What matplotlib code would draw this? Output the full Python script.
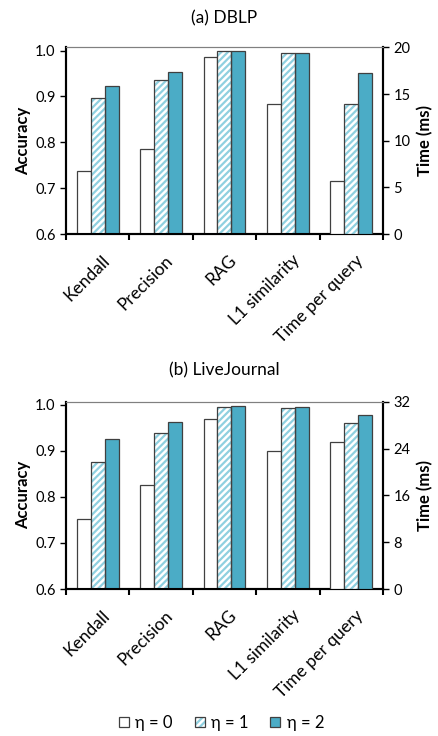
import numpy as np
import matplotlib
matplotlib.use("Agg")
import matplotlib.pyplot as plt
from matplotlib.patches import Patch

plt.rcParams['font.family'] = ['Lato', 'DejaVu Sans']
plt.rcParams['hatch.linewidth'] = 1.6

metrics = ["Kendall", "Precision", "RAG", "L1 similarity", "Time per query"]
etas = ["η = 0", "η = 1", "η = 2"]

# accuracy values for the first four metrics, time (ms) for the last one
dblp_acc = {
    "η = 0": [0.738, 0.786, 0.986, 0.883],
    "η = 1": [0.897, 0.935, 0.998, 0.994],
    "η = 2": [0.923, 0.953, 0.999, 0.995],
}
dblp_time = {"η = 0": 5.7, "η = 1": 13.9, "η = 2": 17.2}

lj_acc = {
    "η = 0": [0.752, 0.826, 0.969, 0.899],
    "η = 1": [0.875, 0.939, 0.996, 0.994],
    "η = 2": [0.926, 0.962, 0.998, 0.996],
}
lj_time = {"η = 0": 25.2, "η = 1": 28.3, "η = 2": 29.7}

teal = "#4BACC6"
hatch_col = "#8FD0E0"
edge = "#404040"
width = 0.22

fig = plt.figure(figsize=(4.39, 7.36), dpi=100)


def draw(rect, title, acc, tm, tmax, tticks, tpad):
    ax = fig.add_axes(rect)
    ax2 = ax.twinx()
    x = np.arange(len(metrics))
    for i, eta in enumerate(etas):
        off = (i - 1) * width
        xs = x[:4] + off
        xt = x[4] + off
        if i == 0:
            ax.bar(xs, acc[eta], width, color="white", edgecolor=edge, lw=0.9, zorder=3)
            ax2.bar(xt, tm[eta], width, color="white", edgecolor=edge, lw=0.9, zorder=3)
        elif i == 1:
            ax.bar(xs, acc[eta], width, color="white", edgecolor=hatch_col, hatch="/////", lw=0, zorder=3)
            ax.bar(xs, acc[eta], width, color="none", edgecolor=edge, lw=0.9, zorder=4)
            ax2.bar(xt, tm[eta], width, color="white", edgecolor=hatch_col, hatch="/////", lw=0, zorder=3)
            ax2.bar(xt, tm[eta], width, color="none", edgecolor=edge, lw=0.9, zorder=4)
        else:
            ax.bar(xs, acc[eta], width, color=teal, edgecolor=edge, lw=0.9, zorder=3)
            ax2.bar(xt, tm[eta], width, color=teal, edgecolor=edge, lw=0.9, zorder=3)

    ax.set_xlim(-0.5, 4.5)
    ax.set_ylim(0.6, 1.007)
    ax.set_yticks([0.6, 0.7, 0.8, 0.9, 1.0])
    ax.set_yticklabels(["0.6", "0.7", "0.8", "0.9", "1.0"])
    ax2.set_ylim(0, tmax)
    ax2.set_yticks(tticks)

    # category boundaries as major ticks, names on minor ticks
    ax.set_xticks(np.arange(-0.5, 5, 1))
    ax.set_xticklabels([""] * 6)
    ax.set_xticks(x + 0.06, minor=True)
    ax.set_xticklabels(metrics, minor=True, rotation=45, ha="right",
                       rotation_mode="anchor", fontsize=12.5)
    ax.tick_params(axis="x", which="minor", length=0, pad=13)
    ax.tick_params(axis="x", which="major", bottom=True, length=4, width=1.5,
                   direction="out", color="black")
    ax.tick_params(axis="y", length=4, width=1, labelsize=10.5)
    ax2.tick_params(axis="y", length=4, width=1, labelsize=10.5)

    for a in (ax, ax2):
        a.spines["top"].set_color("#808080")
        a.spines["top"].set_linewidth(0.8)
        a.spines["left"].set_linewidth(1.5)
        a.spines["right"].set_linewidth(1.5)
        a.spines["bottom"].set_linewidth(1.5)

    ax.set_ylabel("Accuracy", fontweight="bold", fontsize=12, labelpad=3)
    ax2.set_ylabel("Time (ms)", fontweight="bold", fontsize=12, labelpad=5)
    ax.set_title(title, fontsize=12.5, pad=tpad)
    return ax


draw([0.1503, 0.682, 0.722, 0.2537], "(a) DBLP", dblp_acc, dblp_time,
     20, [0, 5, 10, 15, 20], 17)
draw([0.1503, 0.1997, 0.722, 0.2545], "(b) LiveJournal", lj_acc, lj_time,
     32, [0, 8, 16, 24, 32], 19)

h0 = Patch(facecolor="white", edgecolor=edge, lw=0.9)
h1 = (Patch(facecolor="white", edgecolor=hatch_col, hatch="/////", lw=0),
      Patch(facecolor="none", edgecolor=edge, lw=0.9))
h2 = Patch(facecolor=teal, edgecolor=edge, lw=0.9)
fig.legend([h0, h1, h2], etas, loc="center", bbox_to_anchor=(0.505, 0.018),
           ncol=3, frameon=False, fontsize=12, handlelength=0.6, handleheight=0.6,
           handletextpad=0.4, columnspacing=1.3)

fig.savefig("out.png", dpi=100)
